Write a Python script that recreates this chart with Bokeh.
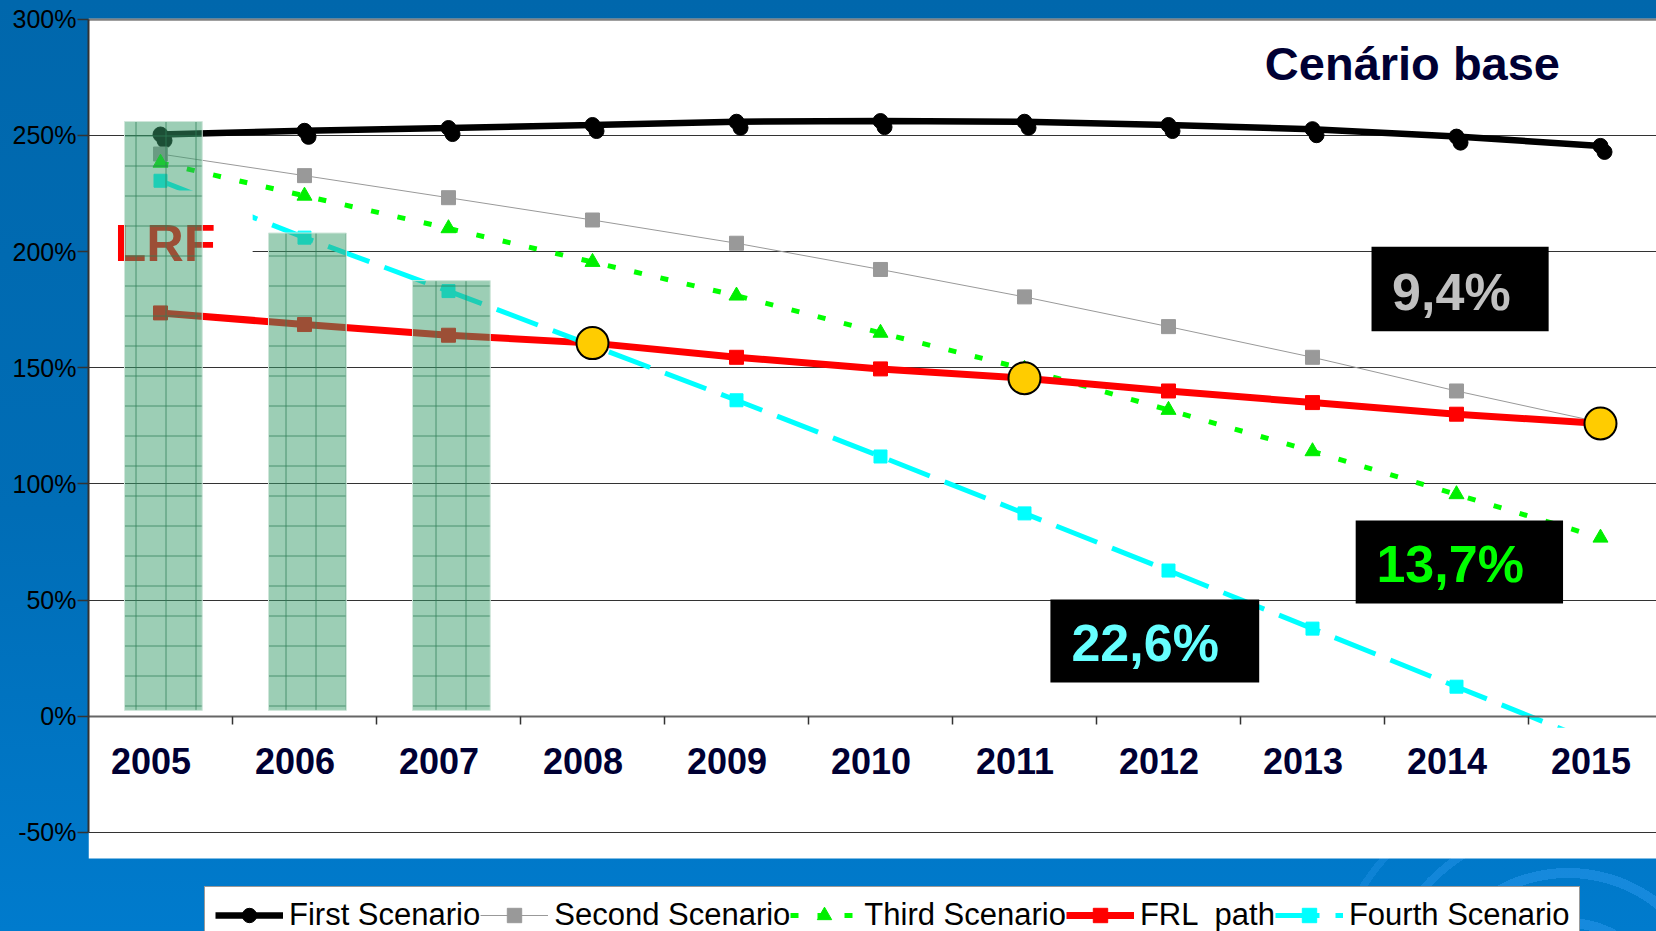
from bokeh.plotting import figure
from bokeh.models import (ColumnDataSource, Range1d, LinearAxis, FixedTicker, Grid, Legend,
                          LegendItem, Label, BoxAnnotation, Span, CustomJSTickFormatter)
from bokeh.embed import file_html
from bokeh.resources import INLINE
from bokeh.core.properties import value
from bokeh.transform import dodge

# ---------------- data ----------------
years = [2005, 2006, 2007, 2008, 2009, 2010, 2011, 2012, 2013, 2014, 2015]
first_scenario = [250.4, 252.0, 253.2, 254.5, 255.9, 256.2, 255.9, 254.5, 252.7, 249.5, 245.5]
second_scenario = [242.0, 232.7, 223.2, 213.6, 203.6, 192.3, 180.5, 167.7, 154.5, 140.0, 126.5]
third_scenario = [238.2, 224.0, 210.0, 195.5, 181.0, 165.0, 149.5, 131.8, 114.0, 95.5, 76.8]
frl_path = [173.6, 168.6, 164.0, 160.6, 154.5, 149.5, 145.5, 140.0, 135.0, 130.0, 126.0]
fourth_scenario = [230.5, 206.0, 183.0, 159.5, 136.0, 111.8, 87.3, 62.7, 37.7, 12.7, -12.3]

lrf_years = [2005, 2006, 2007]
lrf_top = [256.0, 208.0, 187.5]
lrf_bottom = [2.5, 2.5, 2.5]

crossing_years = [2008, 2011, 2015]
crossing_values = [frl_path[years.index(y)] for y in crossing_years]

y_ticks = [-50, 0, 50, 100, 150, 200, 250, 300]
series_names = ["First Scenario", "Second Scenario", "Third Scenario", "FRL  path", "Fourth Scenario"]
rate_labels = ["9,4%", "13,7%", "22,6%"]
title_text = "Cenário base"
lrf_text = "LRF"

FONT = "Liberation Sans"

src = ColumnDataSource(dict(x=years, first=first_scenario, second=second_scenario,
                            third=third_scenario, frl=frl_path, fourth=fourth_scenario))
bar_src = ColumnDataSource(dict(x=lrf_years, top=lrf_top, bottom=lrf_bottom))
cross_src = ColumnDataSource(dict(x=crossing_years, y=crossing_values))

# ---------------- figure ----------------
PANEL_BOTTOM = -61.26   # lower edge of the white chart panel
p = figure(width=1656, height=931,
           x_range=Range1d(2004.5, 2015.389), y_range=Range1d(-92.68, 300.34),
           output_backend="svg", toolbar_location=None, title=None,
           x_axis_location=None, y_axis_location=None,
           min_border_left=88, min_border_right=0, min_border_top=18, min_border_bottom=0,
           background_fill_alpha=0, border_fill_alpha=0, outline_line_color=None)

# drop default grids
p.center = [r for r in p.center if not isinstance(r, Grid)]

p.styles = {"background": (
    "radial-gradient(circle at 1568px 1018px, rgba(0,0,0,0) 0px, rgba(0,0,0,0) 90px, "
    "rgba(40,150,235,0.55) 90px, rgba(40,150,235,0.55) 100px, rgba(0,0,0,0) 100px, rgba(0,0,0,0) 140px, "
    "rgba(40,150,235,0.55) 140px, rgba(40,150,235,0.55) 150px, rgba(0,0,0,0) 150px, rgba(0,0,0,0) 190px, "
    "rgba(40,150,235,0.45) 190px, rgba(40,150,235,0.45) 198px, rgba(0,0,0,0) 198px, rgba(0,0,0,0) 240px, "
    "rgba(40,150,235,0.35) 240px, rgba(40,150,235,0.35) 247px, rgba(0,0,0,0) 247px), "
    "linear-gradient(180deg, #0067AC 0%, #006DB6 55%, #007BCD 100%)")}

# white chart panel, grid and top line
p.add_layout(BoxAnnotation(bottom=PANEL_BOTTOM, fill_color="white", fill_alpha=1,
                           line_color=None, level="underlay"))
p.add_layout(Grid(dimension=1, ticker=FixedTicker(ticks=y_ticks),
                  grid_line_color="#333333", grid_line_width=1))
p.add_layout(Span(location=y_ticks[-1], dimension="width", line_color="#808080",
                  line_width=3, level="underlay"))

# y axis
yaxis = LinearAxis(ticker=FixedTicker(ticks=y_ticks), bounds=(y_ticks[0], y_ticks[-1]),
                   formatter=CustomJSTickFormatter(code="return tick + '%';"),
                   major_tick_out=11, major_tick_in=0, minor_tick_out=0, minor_tick_in=0,
                   major_tick_line_color="#333333", major_tick_line_width=1.5,
                   axis_line_color="#333333", axis_line_width=2,
                   major_label_text_font=FONT, major_label_text_font_size="25px",
                   major_label_text_color="black", major_label_standoff=1)
p.add_layout(yaxis, "left")

# x axis on the zero line: labels at the years, tick marks at category boundaries
boundaries = [y + 0.5 for y in years[:-1]]
label_ticks = [y - 0.066 for y in years]
xaxis = LinearAxis(fixed_location=0, ticker=FixedTicker(ticks=label_ticks, minor_ticks=boundaries),
                   formatter=CustomJSTickFormatter(code="return Math.round(tick).toString();"),
                   major_tick_out=0, major_tick_in=0, minor_tick_out=8, minor_tick_in=0,
                   minor_tick_line_color="#333333", minor_tick_line_width=1.5,
                   axis_line_color="#666666", axis_line_width=2, major_label_standoff=24,
                   major_label_text_font=FONT, major_label_text_font_size="36px",
                   major_label_text_font_style="bold", major_label_text_color="#000033")
p.add_layout(xaxis, "below")

# ---------------- series ----------------
l1 = p.line("x", "first", source=src, line_color="black", line_width=6.5)
s1 = p.scatter("x", "first", source=src, marker="circle", size=15, fill_color="black", line_color="black")
p.scatter(dodge("x", 0.028, range=p.x_range), dodge("first", -2.6, range=p.y_range), source=src,
          marker="circle", size=15, fill_color="black", line_color="black")

l2 = p.line("x", "second", source=src, line_color="#999999", line_width=1)
s2 = p.scatter("x", "second", source=src, marker="square", size=14, fill_color="#999999", line_color="#999999")

l3 = p.line("x", "third", source=src, line_color="#00FF00", line_width=5, line_dash="8 19")
s3 = p.scatter("x", "third", source=src, marker="triangle", size=15, fill_color="#00EE00", line_color="#00EE00")

l4 = p.line("x", "frl", source=src, line_color="#FF0000", line_width=7)
s4 = p.scatter("x", "frl", source=src, marker="square", size=14, fill_color="#FF0000", line_color="#FF0000")

l5 = p.line("x", "fourth", source=src, line_color="#00FFFF", line_width=5, line_dash="44 16")
s5 = p.scatter("x", "fourth", source=src, marker="square", size=13, fill_color="#00FFFF", line_color="#00FFFF")

# white text boxes of the slide (LRF note and the last year label)
p.quad(left=[2004.5], right=[2005.64], top=[226.3], bottom=[189.6], fill_color="white", line_color=None)
p.text(x=[2004.68], y=[203.5], text=[lrf_text], text_font=value(FONT), text_font_size="52px",
       text_font_style="bold", text_color="#FF0000", text_align="left", text_baseline="alphabetic")
p.quad(left=[2014.55], right=[2015.389], top=[-5.0], bottom=[-45.0], fill_color="white", line_color=None)

# LRF bars (semi-transparent, gridded)
p.vbar(x=dodge("x", 0.02, range=p.x_range), top="top", bottom="bottom", width=0.54, source=bar_src,
       fill_color="#3A9E6C", fill_alpha=0.5, line_color="#CFE6DA", line_width=1,
       hatch_pattern="cross", hatch_scale=30, hatch_color="#2E7D55", hatch_alpha=0.75, hatch_weight=1)

# crossing points
p.scatter("x", "y", source=cross_src, marker="circle", size=32, fill_color="#FFCC00",
          line_color="black", line_width=2)

# ---------------- rate boxes ----------------
boxes = [(2013.41, 2014.64, 202.1, 165.7), (2013.30, 2014.74, 84.2, 48.5), (2011.18, 2012.63, 50.2, 14.5)]
text_pos = [(2013.553, 182.8), (2013.444, 65.7), (2011.326, 31.7)]
text_colors = ["#C0C0C0", "#00FF00", "#66FFFF"]
for (l, r, t, b), (tx, ty), txt, c in zip(boxes, text_pos, rate_labels, text_colors):
    p.add_layout(BoxAnnotation(left=l, right=r, top=t, bottom=b, fill_color="black",
                               fill_alpha=1, line_color=None))
    p.add_layout(Label(x=tx, y=ty, text=txt, text_font=FONT, text_font_size="52px",
                       text_font_style="bold", text_color=c, text_align="left",
                       text_baseline="middle"))

p.add_layout(Label(x=2013.694, y=281.0, text=title_text, text_font=FONT, text_font_size="47px",
                   text_font_style="bold", text_color="#000033", text_align="center",
                   text_baseline="middle"))

# ---------------- legend ----------------
legend = Legend(items=[LegendItem(label=series_names[0], renderers=[l1, s1]),
                       LegendItem(label=series_names[1], renderers=[l2, s2]),
                       LegendItem(label=series_names[2], renderers=[l3, s3]),
                       LegendItem(label=series_names[3], renderers=[l4, s4]),
                       LegendItem(label=series_names[4], renderers=[l5, s5])],
                orientation="horizontal", location=(116, -13),
                glyph_width=68, glyph_height=36, label_height=36, label_standoff=6,
                spacing=-22, padding=10, margin=0,
                label_text_font=FONT, label_text_font_size="31px", label_text_color="black",
                border_line_color="#333333", border_line_width=1.5,
                background_fill_color="white", background_fill_alpha=1)
p.add_layout(legend, "center")

open("out.html", "w").write(file_html(p, INLINE))
